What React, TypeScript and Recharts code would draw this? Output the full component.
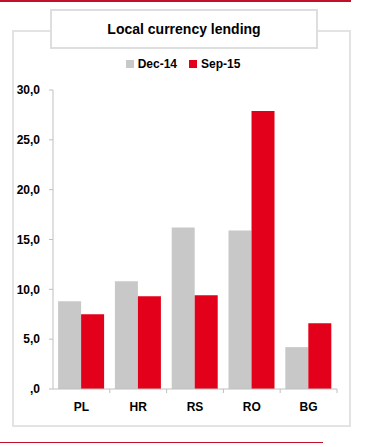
import React from "react";
import { BarChart, Bar, XAxis, YAxis } from "recharts";

const countries = ["PL", "HR", "RS", "RO", "BG"];
const dec14 = [8.8, 10.8, 16.2, 15.9, 4.2];
const sep15 = [7.5, 9.3, 9.4, 27.9, 6.6];
const yTicks = [0, 5, 10, 15, 20, 25, 30];
const seriesNames = ["Dec-14", "Sep-15"];

const data = countries.map((c, i) => ({ country: c, dec14: dec14[i], sep15: sep15[i] }));

const GRAY = "#c8c8c8";
const RED = "#e2001a";
const AXIS = "#bfbfbf";
const FONT = "'Liberation Sans', Arial, sans-serif";

const PLOT_LEFT = 53;
const PLOT_RIGHT = 337;
const BAND = (PLOT_RIGHT - PLOT_LEFT) / countries.length;

const fmt = (v: number) => (v === 0 ? ",0" : v.toFixed(1).replace(".", ","));

const XTick = (props: any) => {
  const { x, payload } = props;
  return (
    <g>
      <line x1={x + BAND / 2} x2={x + BAND / 2} y1={389} y2={393} stroke={AXIS} />
      <text x={x} y={411} textAnchor="middle" fontSize={12} fontWeight="bold" fill="#000" fontFamily={FONT}>
        {payload.value}
      </text>
    </g>
  );
};

export default function App() {
  return (
    <div style={{ position: "absolute", left: 0, top: 0, width: 379, height: 447, background: "#fff", overflow: "hidden" }}>
      {/* top and bottom red rules */}
      <div style={{ position: "absolute", left: 0, top: 0, width: 351, height: 2, background: "#c0102a" }} />
      <div style={{ position: "absolute", left: 0, top: 442, width: 323, height: 1, background: "#c0102a" }} />
      {/* outer frame */}
      <div style={{ position: "absolute", left: 12, top: 30, width: 335, height: 393, border: "2px solid #e3e3e3" }} />
      <div style={{ position: "absolute", left: 0, top: 0 }}>
        <BarChart
          width={379}
          height={447}
          data={data}
          margin={{ top: 90, right: 42, bottom: 28, left: 13 }}
          barGap={0}
          barCategoryGap="9%"
        >
          <XAxis
            dataKey="country"
            stroke={AXIS}
            tickLine={false}
            tick={<XTick />}
            height={30}
            interval={0}
          />
          <YAxis
            domain={[0, 30]}
            ticks={yTicks}
            tickFormatter={fmt}
            stroke={AXIS}
            tickSize={4}
            tickMargin={9}
            width={40}
            interval={0}
            tick={{ fill: "#000", fontSize: 12, fontWeight: "bold", fontFamily: FONT }}
          />
          <Bar dataKey="dec14" name={seriesNames[0]} fill={GRAY} isAnimationActive={false} />
          <Bar dataKey="sep15" name={seriesNames[1]} fill={RED} isAnimationActive={false} />
        </BarChart>
      </div>
      {/* legend */}
      <div
        style={{
          position: "absolute",
          left: 0,
          top: 57,
          width: 366,
          display: "flex",
          justifyContent: "center",
          fontFamily: FONT,
          fontSize: 12,
          fontWeight: "bold",
        }}
      >
        {seriesNames.map((n, i) => (
          <span key={n} style={{ display: "flex", alignItems: "center", marginRight: i === 0 ? 12 : 0 }}>
            <span style={{ width: 8, height: 8, background: i === 0 ? GRAY : RED, marginRight: 4 }} />
            {n}
          </span>
        ))}
      </div>
      {/* title box */}
      <div
        style={{
          position: "absolute",
          left: 50,
          top: 9,
          width: 264,
          height: 36,
          border: "2px solid #dedede",
          background: "#fff",
          display: "flex",
          alignItems: "center",
          justifyContent: "center",
          fontFamily: FONT,
          fontSize: 14,
          fontWeight: "bold",
          color: "#000",
        }}
      >
        Local currency lending
      </div>
    </div>
  );
}
